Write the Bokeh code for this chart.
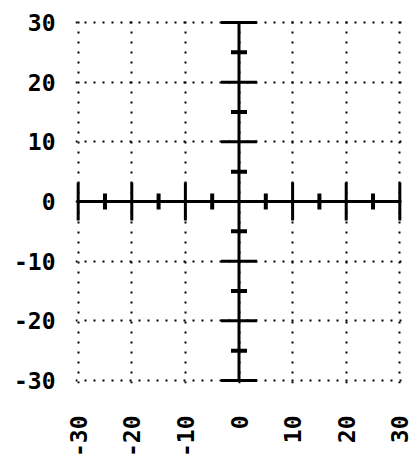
import math
from bokeh.plotting import figure
from bokeh.models import Range1d, FixedTicker
from bokeh.embed import file_html
from bokeh.resources import INLINE

# data
tick_values = [-30, -20, -10, 0, 10, 20, 30]
tick_labels = ["-30", "-20", "-10", "0", "10", "20", "30"]
axis_min, axis_max = -30, 30
major_marks = [-30, -20, -10, 10, 20, 30]
minor_marks = [-25, -15, -5, 5, 15, 25]

p = figure(width=409, height=460, output_backend="svg", toolbar_location=None,
           x_range=Range1d(-30.5, 30.5), y_range=Range1d(-30.5, 30.5),
           min_border_left=75, min_border_right=7, min_border_top=19, min_border_bottom=74)
p.outline_line_color = None
p.background_fill_color = "white"

for ax in (p.xaxis[0], p.yaxis[0]):
    ax.ticker = FixedTicker(ticks=tick_values)
    ax.major_label_overrides = {v: s for v, s in zip(tick_values, tick_labels)}
    ax.axis_line_color = None
    ax.major_tick_line_color = None
    ax.minor_tick_line_color = None
    ax.major_tick_in = 0
    ax.major_tick_out = 0
    ax.major_label_text_font = "DejaVu Sans Mono"
    ax.major_label_text_font_style = "bold"
    ax.major_label_text_font_size = "23px"
    ax.major_label_text_color = "black"
p.yaxis[0].major_label_standoff = 20
p.xaxis[0].major_label_standoff = 32
p.xaxis[0].major_label_orientation = math.pi / 2

p.xgrid.ticker = FixedTicker(ticks=tick_values)
p.ygrid.ticker = FixedTicker(ticks=tick_values)
p.xgrid.grid_line_color = "black"
p.ygrid.grid_line_color = "black"
p.xgrid.grid_line_width = 2
p.ygrid.grid_line_width = 2
p.xgrid.grid_line_dash = "2 8"
p.ygrid.grid_line_dash = "2 7"

# central axes
p.segment(x0=[axis_min, 0], y0=[0, axis_min], x1=[axis_max, 0], y1=[0, axis_max],
          line_color="black", line_width=3)

zeros_major = [0] * len(major_marks)
zeros_minor = [0] * len(minor_marks)
# ticks on horizontal axis (vertical dashes)
p.scatter(x=major_marks, y=zeros_major, marker="dash", size=38, angle=math.pi / 2,
          line_color="black", line_width=3)
p.scatter(x=minor_marks, y=zeros_minor, marker="dash", size=16, angle=math.pi / 2,
          line_color="black", line_width=4)
# ticks on vertical axis (horizontal dashes)
p.scatter(x=zeros_major, y=major_marks, marker="dash", size=36,
          line_color="black", line_width=3)
p.scatter(x=zeros_minor, y=minor_marks, marker="dash", size=16,
          line_color="black", line_width=4)

open("out.html", "w").write(file_html(p, INLINE))
